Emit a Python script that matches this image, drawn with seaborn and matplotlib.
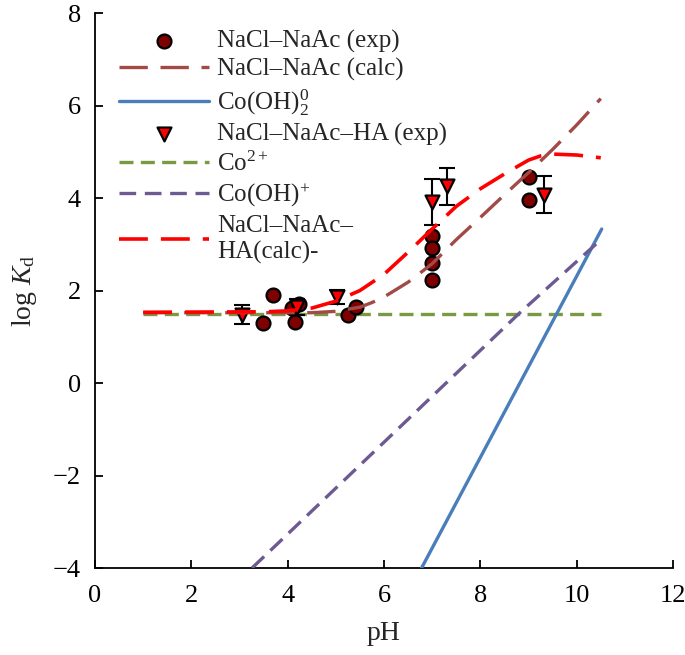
import matplotlib
matplotlib.use("Agg")
import matplotlib.pyplot as plt
import seaborn as sns

# 1. DATA
# ----------------------------------------
# NaCl-NaAc experimental points
exp_ph = [3.49, 3.70, 4.09, 4.23, 4.15, 5.25, 5.41, 7.0, 7.0, 7.0, 7.0, 9.0, 9.0]
exp_logkd = [1.30, 1.90, 1.63, 1.70, 1.31, 1.48, 1.64, 3.17, 2.92, 2.59, 2.23, 4.46, 3.96]

# NaCl-NaAc-HA experimental points with error bars
ha_ph = [3.05, 4.20, 5.02, 7.0, 7.31, 9.33]
ha_logkd = [1.48, 1.65, 1.86, 3.92, 4.25, 4.07]
ha_err = [0.20, 0.17, 0.16, 0.50, 0.40, 0.40]

# NaCl-NaAc calculated curve
calc_ph = [1.0, 4.5, 5.0, 5.5, 5.75, 6.0, 6.5, 7.0, 7.5, 8.0, 8.5, 9.0, 9.5, 10.0, 10.5]
calc_logkd = [1.52, 1.52, 1.55, 1.64, 1.74, 1.86, 2.18, 2.58, 3.10, 3.58, 4.07, 4.55, 5.05, 5.58, 6.15]

# NaCl-NaAc-HA calculated curve
hacalc_ph = [1.0, 3.5, 4.0, 4.5, 5.0, 5.5, 6.0, 6.5, 7.0, 7.5, 8.0, 8.5, 9.0, 9.25, 9.5, 10.0, 10.5]
hacalc_logkd = [1.53, 1.54, 1.56, 1.62, 1.77, 2.00, 2.35, 2.83, 3.33, 3.82, 4.20, 4.52, 4.82, 4.91, 4.95, 4.93, 4.87]

# species lines
co2_ph = [1.0, 10.5]
co2_logkd = [1.50, 1.50]
cooh_ph = [3.26, 8.8, 10.45]
cooh_logkd = [-4.0, 1.5, 3.05]
cooh2_ph = [6.78, 10.52]
cooh2_logkd = [-4.0, 3.33]

# 2. STYLE
# --------
sns.set_style("ticks")
plt.rcParams['font.family'] = ['Liberation Serif', 'DejaVu Serif']
plt.rcParams['mathtext.fontset'] = 'custom'
plt.rcParams['mathtext.rm'] = 'Liberation Serif'
plt.rcParams['mathtext.it'] = 'Liberation Serif:italic'

fig = plt.figure(figsize=(6.85, 6.55), dpi=100)
ax = fig.add_axes([0.1387, 0.1328, 0.8438, 0.8473])

# 3. PLOT
# -------
sns.scatterplot(x=exp_ph, y=exp_logkd, ax=ax, marker='o', s=100, color='#7F0000',
                edgecolor='black', linewidth=1.6, zorder=3, label='NaCl–NaAc (exp)')

ax.errorbar(ha_ph, ha_logkd, yerr=ha_err, fmt='none', ecolor='black',
            elinewidth=1.5, capsize=5.5, capthick=1.5, zorder=3)
sns.scatterplot(x=ha_ph, y=ha_logkd, ax=ax, marker='v', s=100, color='#FF0000',
                edgecolor='black', linewidth=1.6, zorder=4, label='NaCl–NaAc–HA (exp)')

sns.lineplot(x=calc_ph, y=calc_logkd, ax=ax, color='#A24A47', lw=2.4,
             linestyle=(0, (8.5, 3.8)), zorder=5, label='NaCl–NaAc (calc)')
sns.lineplot(x=cooh2_ph, y=cooh2_logkd, ax=ax, color='#4A7EBB', lw=2.4,
             zorder=5, label=r'Co(OH)$_2^0$')
sns.lineplot(x=co2_ph, y=co2_logkd, ax=ax, color='#7A9A42', lw=2.4,
             linestyle=(0, (4.2, 2.2)), zorder=2, label=r'Co$^{2+}$')
sns.lineplot(x=cooh_ph, y=cooh_logkd, ax=ax, color='#6E5A93', lw=2.4,
             linestyle=(0, (5.0, 2.6)), zorder=5, label=r'Co(OH)$^{+}$')
sns.lineplot(x=hacalc_ph, y=hacalc_logkd, ax=ax, color='#FF0000', lw=2.6,
             linestyle=(0, (8.0, 3.6)), zorder=6, label='NaCl–NaAc–\nHA(calc)-')

# 4. AXES
# -------
ax.set_xlim(0, 12)
ax.set_ylim(-4, 8)
ax.set_xticks(range(0, 13, 2))
ax.set_yticks(range(-4, 9, 2))
ax.tick_params(direction='in', length=6, width=1.3, labelsize=19, colors='black', pad=10)
ax.tick_params(axis='x', pad=12)
for side in ['top', 'right']:
    ax.spines[side].set_visible(False)
for side in ['left', 'bottom']:
    ax.spines[side].set_linewidth(1.3)
    ax.spines[side].set_color('black')
ax.set_xlabel('pH', fontsize=20, labelpad=10)
ax.set_ylabel(r'log $K_{\rm d}$', fontsize=20, labelpad=10)

# legend in the reference's order
handles, labels = ax.get_legend_handles_labels()
order = ['NaCl–NaAc (exp)', 'NaCl–NaAc (calc)', r'Co(OH)$_2^0$', 'NaCl–NaAc–HA (exp)',
         r'Co$^{2+}$', r'Co(OH)$^{+}$', 'NaCl–NaAc–\nHA(calc)-']
lookup = dict(zip(labels, handles))
ax.legend([lookup[k] for k in order], order, loc='upper left', bbox_to_anchor=(0.042, 0.97),
          frameon=False, fontsize=18, handlelength=3.6, handletextpad=0.3,
          labelspacing=0.22, borderpad=0, borderaxespad=0)

plt.savefig("out.png", dpi=100)
